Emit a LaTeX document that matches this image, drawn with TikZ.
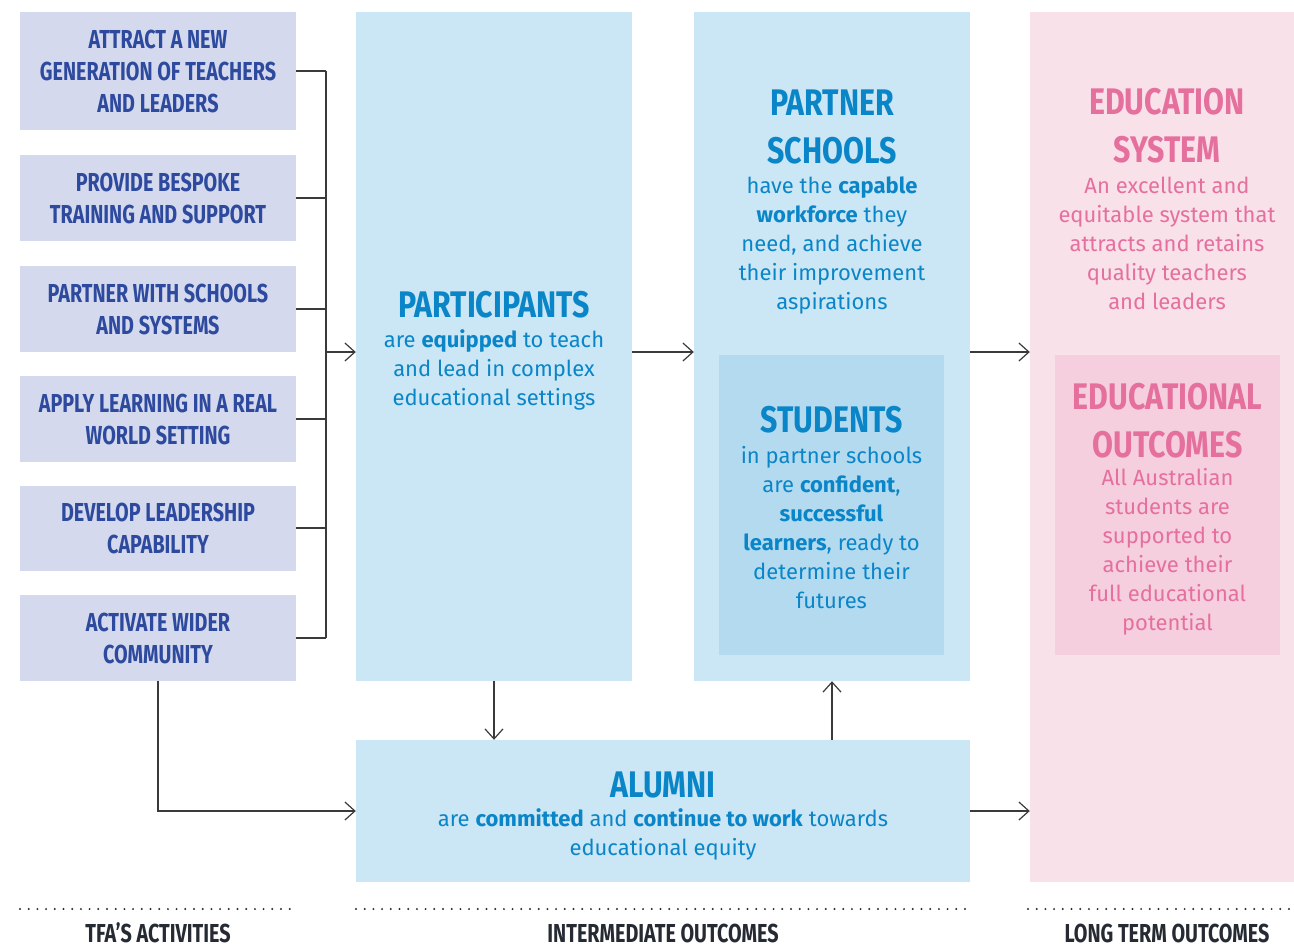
\documentclass[tikz,border=0pt]{standalone}
\usepackage{fontspec}
\setmainfont{Fira Sans}
\newfontfamily\headfont[FakeStretch=0.82]{Fira Sans}
\newfontfamily\actfont[FakeStretch=0.76]{Fira Sans}
\usetikzlibrary{arrows.meta,positioning}

\definecolor{actbg}{HTML}{D4D9ED}
\definecolor{acttext}{HTML}{2E4A9E}
\definecolor{bluebg}{HTML}{CBE6F4}
\definecolor{studbg}{HTML}{B4DAEF}
\definecolor{bluetext}{HTML}{0A86C8}
\definecolor{pinkbg}{HTML}{F9E1EA}
\definecolor{outbg}{HTML}{F5CFDE}
\definecolor{pinktext}{HTML}{E5709D}
\definecolor{linegrey}{HTML}{3A3A3A}
\definecolor{labeltext}{HTML}{252A33}

\tikzset{
  act box/.style={fill=actbg, text=acttext, minimum width=276pt, minimum height=86pt,
    inner sep=0pt, align=center, font=\actfont\bfseries\fontsize{26}{32}\selectfont},
  big box/.style={inner sep=0pt},
  head/.style={inner sep=0pt, align=center, font=\headfont\bfseries\fontsize{37}{48}\selectfont},
  body/.style={inner sep=0pt, align=center, font=\fontsize{22}{29}\selectfont},
  link/.style={draw=linegrey, line width=1.2pt},
  dots/.style={draw=labeltext, line width=2.2pt, line cap=round, dash pattern=on 0pt off 8.7pt},
  col label/.style={inner sep=0pt, text=labeltext, font=\actfont\bfseries\fontsize{26}{30}\selectfont}
}

\begin{document}
\begin{tikzpicture}[x=1pt,y=-1pt,>={Straight Barb[length=10pt,width=18pt]}]
  \useasboundingbox (0,0) rectangle (1294,948);

  % activities
  \node[act box, minimum height=118pt] (act1) at (158,71) {ATTRACT A NEW\\GENERATION OF TEACHERS\\AND LEADERS};
  \node[act box] (act2) at (158,198) {PROVIDE BESPOKE\\TRAINING AND SUPPORT};
  \node[act box] (act3) at (158,309) {PARTNER WITH SCHOOLS\\AND SYSTEMS};
  \node[act box] (act4) at (158,419) {APPLY LEARNING IN A REAL\\WORLD SETTING};
  \node[act box, minimum height=85pt] (act5) at (158,528) {DEVELOP LEADERSHIP\\CAPABILITY};
  \node[act box] (act6) at (158,638) {ACTIVATE WIDER\\COMMUNITY};
  \coordinate (brk) at (326,352);

  % intermediate outcomes
  \node[big box, fill=bluebg, minimum width=276pt, minimum height=669pt] (part) at (494,346.5) {};
  \node[head, text=bluetext] (parthead) at (494,305) {PARTICIPANTS};
  \node[body, text=bluetext] (partbody) at (494,369.5) {are \textbf{equipped} to teach\\and lead in complex\\educational settings};

  \node[big box, fill=bluebg, minimum width=276pt, minimum height=669pt] (ps) at (832,346.5) {};
  \node[head, text=bluetext] (pshead) at (832,127) {PARTNER\\SCHOOLS};
  \node[body, text=bluetext] (psbody) at (832,245) {have the \textbf{capable}\\\textbf{workforce} they\\need, and achieve\\their improvement\\aspirations};

  \node[big box, fill=studbg, minimum width=225pt, minimum height=300pt] (stud) at (831.5,505) {};
  \node[head, text=bluetext] (studhead) at (831.5,420) {STUDENTS};
  \node[body, text=bluetext] (studbody) at (831.5,528) {in partner schools\\are \textbf{confident},\\\textbf{successful}\\\textbf{learners}, ready to\\determine their\\futures};

  \node[big box, fill=bluebg, minimum width=614pt, minimum height=142pt] (alum) at (663,811) {};
  \node[head, text=bluetext] (alumhead) at (663,785) {ALUMNI};
  \node[body, text=bluetext] (alumbody) at (663,834.5) {are \textbf{committed} and \textbf{continue to work} towards\\educational equity};

  % long term outcomes
  \node[big box, fill=pinkbg, minimum width=264pt, minimum height=870pt] (edu) at (1162,447) {};
  \node[head, text=pinktext] (eduhead) at (1167,126) {EDUCATION\\SYSTEM};
  \node[body, text=pinktext] (edubody) at (1167,243) {An excellent and\\equitable system that\\attracts and retains\\quality teachers\\and leaders};

  \node[big box, fill=outbg, minimum width=225pt, minimum height=300pt] (out) at (1167.5,505) {};
  \node[head, text=pinktext] (outhead) at (1167.5,420.5) {EDUCATIONAL\\OUTCOMES};
  \node[body, text=pinktext] (outbody) at (1167.5,552) {All Australian\\students are\\supported to\\achieve their\\full educational\\potential};

  % connectors
  \foreach \n in {1,...,6}
    \draw[link] (act\n.east) -- (act\n.east -| brk);
  \draw[link] (act1.east -| brk) -- (act6.east -| brk);
  \draw[link,->] (brk) -- (brk -| part.west);
  \draw[link,->] (part.east |- brk) -- (ps.west |- brk);
  \draw[link,->] (ps.east |- brk) -- (edu.west |- brk);
  \draw[link,->] (part.south) -- (part.south |- alum.north);
  \draw[link,->] (alum.north -| ps.south) -- (ps.south);
  \draw[link,->] (act6.south) |- (alum.west);
  \draw[link,->] (alum.east) -- (alum.east -| edu.west);

  % column labels
  \coordinate (d1a) at (20,909);   \coordinate (d1b) at (298,909);
  \coordinate (d2a) at (356,909);  \coordinate (d2b) at (970,909);
  \coordinate (d3a) at (1028,909); \coordinate (d3b) at (1292,909);
  \draw[dots] (d1a) -- (d1b);
  \draw[dots] (d2a) -- (d2b);
  \draw[dots] (d3a) -- (d3b);
  \node[col label] (lab1) at (158,933) {TFA’S ACTIVITIES};
  \node[col label] (lab2) at (663,933) {INTERMEDIATE OUTCOMES};
  \node[col label] (lab3) at (1167,933) {LONG TERM OUTCOMES};
\end{tikzpicture}
\end{document}
